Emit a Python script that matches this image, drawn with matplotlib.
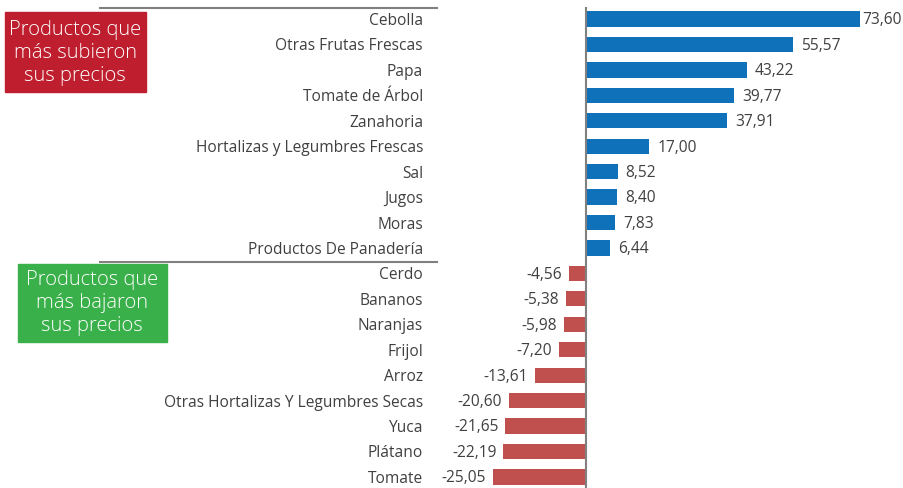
import matplotlib.pyplot as plt
from matplotlib.lines import Line2D
from matplotlib.patches import Rectangle

plt.rcParams['font.family'] = ['Open Sans', 'DejaVu Sans']

productos = [
    "Cebolla", "Otras Frutas Frescas", "Papa", "Tomate de Árbol", "Zanahoria",
    "Hortalizas y Legumbres Frescas", "Sal", "Jugos", "Moras", "Productos De Panadería",
    "Cerdo", "Bananos", "Naranjas", "Frijol", "Arroz",
    "Otras Hortalizas Y Legumbres Secas", "Yuca", "Plátano", "Tomate",
]
variacion = [
    73.60, 55.57, 43.22, 39.77, 37.91, 17.00, 8.52, 8.40, 7.83, 6.44,
    -4.56, -5.38, -5.98, -7.20, -13.61, -20.60, -21.65, -22.19, -25.05,
]

W, H = 904, 488
fig = plt.figure(figsize=(W / 100, H / 100), dpi=100)

# axes: left edge at 437px, zero at 586px, 3.72 px per unit
px_unit = 3.72
left_px = 437
ax = fig.add_axes([left_px / W, 0, 1 - left_px / W, 1])
ax.set_xlim(-(586 - left_px) / px_unit, (W - 586) / px_unit)
ax.set_ylim(18.435, -0.747)

ys = list(range(len(productos)))
colores = ["#0F71BA" if v >= 0 else "#C0504D" for v in variacion]
ax.barh(ys, variacion, height=0.6, color=colores)

# zero line
ax.plot([0, 0], [-0.43, 18.435], color="#808080", lw=1.5, clip_on=False)

for y, v in zip(ys, variacion):
    txt = f"{v:.2f}".replace(".", ",")
    if v >= 0:
        off = 2 if v > 70 else 8
        ax.annotate(txt, (v, y), xytext=(off * 0.72, -1), textcoords="offset points",
                    ha="left", va="center", fontsize=11.2, color="#404040")
    else:
        ax.annotate(txt, (v, y), xytext=(-7 * 0.72, -1), textcoords="offset points",
                    ha="right", va="center", fontsize=11.2, color="#404040")

ax.set_yticks(ys)
ax.set_yticklabels(productos, fontsize=11.2, color="#404040")
ax.tick_params(axis="y", length=0, pad=10)
ax.set_xticks([])
for s in ax.spines.values():
    s.set_visible(False)

# gray separator lines on the label column
for ypx in (8, 262):
    fig.add_artist(Line2D([100 / W, 437 / W], [1 - ypx / H, 1 - ypx / H],
                          color="#808080", lw=1.5))

# header boxes
fig.add_artist(Rectangle((5 / W, 1 - 92 / H), 141 / W, 80 / H, color="#BE1E2D"))
fig.text(75 / W, 1 - 53 / H, "Productos que\nmás subieron\nsus precios",
         ha="center", va="center", fontsize=14.5, color="white",
         linespacing=1.2, fontweight="light")
fig.add_artist(Rectangle((18 / W, 1 - 342 / H), 149 / W, 78 / H, color="#3AB04A"))
fig.text(92 / W, 1 - 303 / H, "Productos que\nmás bajaron\nsus precios",
         ha="center", va="center", fontsize=14.5, color="white",
         linespacing=1.2, fontweight="light")

fig.savefig("out.png", dpi=100)
